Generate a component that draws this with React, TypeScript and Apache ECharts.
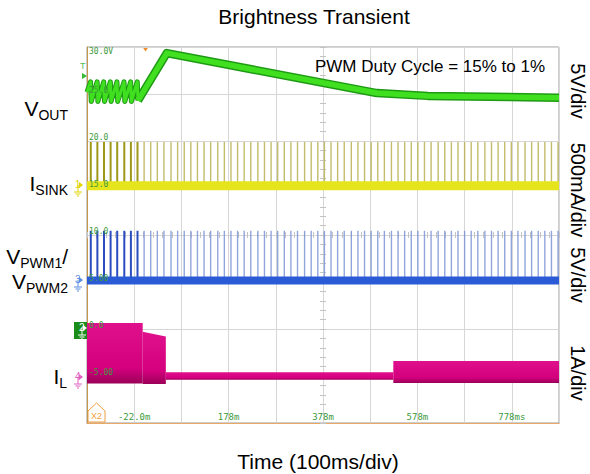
import React, { useEffect, useRef } from "react";
import * as echarts from "echarts";

// ---------- data ----------
const timeTickLabels = ["-22.0m", "178m", "378m", "578m", "778ms"];
const levelTickLabels = ["", "-5.00", "0.0", "5.00", "10.0", "15.0", "20.0", "25.0", "30.0V"];

// VOUT trace: time (ms) / volts
const voutTimes = [-122, -114.5, -113, -100.5, -99, -86.5, -85, -72.5, -71, -58.5, -57, -43.5, -42, -29.5, -28, -15.5, -14, 47, 492, 600, 878];
const voutVolts = [25.2, 26.3, 24.2, 26.3, 24.2, 26.3, 24.2, 26.3, 24.2, 26.3, 24.2, 26.3, 24.2, 26.3, 24.2, 26.3, 24.3, 29.35, 25.1, 24.8, 24.6];
const voutRippleEnd = 16; // index where the ripple stops and the ramp starts

// PWM pulse instants (ms)
const pulseTimes = [-114, -100, -86, -72, -58, -43, -29, -15, -1, 13, 27, 41, 56, 70, 84, 98, 112, 126, 140, 155, 169, 183, 197, 211, 225, 240, 254, 268, 282, 296, 310, 324, 339, 353, 367, 381, 395, 409, 423, 438, 452, 466, 480, 494, 508, 523, 537, 551, 565, 579, 593, 607, 622, 636, 650, 664, 678, 692, 706, 721, 735, 749, 763, 777, 791, 806, 820, 834, 848, 862, 876];
const dutyChangeMs = -10; // pulses before this are 15% duty
const isinkPeakMa = 465;
const vpwmPeakV = 5.3;

// inductor current envelope segments (A)
const ilSegStart = [-122, -4, 45, 527];
const ilSegEnd = [-4, 45, 527, 878];
const ilHiStart = [1.15, 0.96, 0.1, 0.34];
const ilHiEnd = [1.15, 0.86, 0.1, 0.34];
const ilLoStart = [-0.14, -0.15, -0.06, -0.13];
const ilLoEnd = [-0.14, -0.15, -0.06, -0.13];

// ---------- scope settings ----------
const T0 = -122;
const MS_PER_DIV = 100;
const CH_VOUT = { zero: 2, perDiv: 5 };
const CH_ISINK = { zero: 5.05, perDiv: 500 };
const CH_VPWM = { zero: 3.03, perDiv: 5 };
const CH_IL = { zero: 0.98, perDiv: 1 };

const tx = (t: number) => (t - T0) / MS_PER_DIV;
const dy = (c: { zero: number; perDiv: number }, v: number) => c.zero + v / c.perDiv;

const FONT = "'Liberation Sans', Arial, sans-serif";
const MONO = "'DejaVu Sans Mono', monospace";
const LABEL_GREEN = "#3c9a3c";

const voutPoints = voutTimes.map((t, i) => [tx(t), dy(CH_VOUT, voutVolts[i])]);

function pulseSeries(ch: any, peak: number, earlyColor: string, lateColor: string) {
  return {
    type: "custom",
    z: 3,
    renderItem: (_p: any, api: any) => {
      const top = api.coord([api.value(0), api.value(2)]);
      const bot = api.coord([api.value(0), api.value(1)]);
      const early = api.value(3) === 1;
      return {
        type: "line",
        shape: { x1: top[0], y1: top[1], x2: bot[0], y2: bot[1] },
        style: { stroke: early ? earlyColor : lateColor, lineWidth: early ? 2 : 1.4, opacity: early ? 1 : 0.85 },
      };
    },
    encode: { x: 0, y: [1, 2] },
    data: pulseTimes.map((t) => [tx(t), dy(ch, 0), dy(ch, peak), t < dutyChangeMs ? 1 : 0]),
  };
}

function baseline(ch: any, color: string, width: number) {
  return {
    type: "line",
    z: 4,
    showSymbol: false,
    lineStyle: { color, width },
    data: [[tx(T0), dy(ch, 0)], [tx(T0 + 10 * MS_PER_DIV), dy(ch, 0)]],
  };
}

function voutLine(points: number[][], color: string, width: number, z: number) {
  return { type: "line", z, showSymbol: false, lineStyle: { color, width, join: "round", cap: "butt" }, data: points };
}

function groundMarker(label: string, x: number, y: number, color: string) {
  return [
    { type: "text", x: x - 8, y: y - 6, style: { text: label, fontSize: 10, fontFamily: FONT, fill: color } },
    { type: "polygon", shape: { points: [[x - 4, y - 3], [x, y], [x - 4, y + 3]] }, style: { fill: color } },
    { type: "line", shape: { x1: x - 5, y1: y, x2: x - 5, y2: y + 7 }, style: { stroke: color, lineWidth: 1 } },
    { type: "line", shape: { x1: x - 9, y1: y + 7, x2: x - 1, y2: y + 7 }, style: { stroke: color, lineWidth: 1 } },
    { type: "line", shape: { x1: x - 7.5, y1: y + 9, x2: x - 2.5, y2: y + 9 }, style: { stroke: color, lineWidth: 1 } },
    { type: "line", shape: { x1: x - 6, y1: y + 11, x2: x - 4, y2: y + 11 }, style: { stroke: color, lineWidth: 1 } },
  ];
}

function leftLabel(main: string, sub: string, tail: string, x: number, y: number) {
  return {
    type: "text",
    x,
    y,
    style: {
      text: `{a|${main}}{b|${sub}}` + (tail ? `{a|${tail}}` : ""),
      align: "right",
      verticalAlign: "top",
      fill: "#000",
      rich: {
        a: { fontSize: 21, fontFamily: FONT, lineHeight: 21, verticalAlign: "top", fill: "#000" },
        b: { fontSize: 14, fontFamily: FONT, lineHeight: 14, padding: [10, 0, 0, 0], verticalAlign: "top", fill: "#000" },
      },
    },
  };
}

function rightLabel(text: string, y: number) {
  return {
    type: "text",
    x: 578,
    y,
    rotation: -Math.PI / 2,
    style: { text, fontSize: 20, fontFamily: FONT, fill: "#000", align: "center", verticalAlign: "middle" },
  };
}

const magentaFill = () =>
  new echarts.graphic.LinearGradient(0, 0, 0, 1, [
    { offset: 0, color: "#e0108c" },
    { offset: 0.75, color: "#d4007e" },
    { offset: 1, color: "#9a0058" },
  ]);

const centerTickAxis = (inside: boolean) => ({
  axisLine: { show: false },
  axisTick: { show: true, inside, length: 3, lineStyle: { color: "#c4c4c4" } },
  minorTick: { show: true, splitNumber: 5, length: 3, lineStyle: { color: "#c4c4c4" } },
  axisLabel: { show: false },
  splitLine: { show: false },
});

const option: any = {
  animation: false,
  backgroundColor: "#ffffff",
  grid: { left: 87, top: 47, width: 472, height: 376, show: true, borderColor: "#9a9a9a", borderWidth: 1, backgroundColor: "#fff" },
  xAxis: [
    {
      type: "value", min: 0, max: 10, interval: 1, position: "bottom",
      axisLine: { show: true, lineStyle: { color: "#9a9a9a" } },
      axisTick: { show: false },
      splitLine: { show: true, lineStyle: { color: "#d6d6d6", width: 1 } },
      axisLabel: {
        inside: true, margin: 2, color: LABEL_GREEN, fontSize: 9, fontFamily: MONO,
        formatter: (v: number) => (v % 2 === 1 ? timeTickLabels[(v - 1) / 2] : ""),
      },
    },
    {
      type: "value", min: 0, max: 10, position: "top",
      axisLine: { show: true, lineStyle: { color: "#e8a868" } },
      axisTick: { show: false }, axisLabel: { show: false }, splitLine: { show: false },
    },
    { type: "value", min: 0, max: 10, interval: 1, position: "bottom", offset: -188, ...centerTickAxis(true) },
    { type: "value", min: 0, max: 10, interval: 1, position: "bottom", offset: -188, ...centerTickAxis(false) },
  ],
  yAxis: [
    {
      type: "value", min: 0, max: 8, interval: 1, position: "left",
      axisLine: { show: true, lineStyle: { color: "#c8964a" } },
      axisTick: { show: false }, axisLabel: { show: false },
      splitLine: { show: true, lineStyle: { color: "#d6d6d6", width: 1 } },
    },
    {
      type: "value", min: 0, max: 8, interval: 1, position: "left", z: 10,
      axisLine: { show: false }, axisTick: { show: false }, splitLine: { show: false },
      axisLabel: {
        inside: true, margin: 2, verticalAlign: "bottom", color: LABEL_GREEN, fontSize: 8, fontFamily: MONO,
        formatter: (v: number) => (v >= 8 ? "" : levelTickLabels[v]),
      },
    },
    {
      type: "value", min: 0, max: 8, interval: 1, position: "left", z: 10,
      axisLine: { show: false }, axisTick: { show: false }, splitLine: { show: false },
      axisLabel: {
        inside: true, margin: 2, verticalAlign: "top", color: LABEL_GREEN, fontSize: 8, fontFamily: MONO,
        formatter: (v: number) => (v >= 8 ? levelTickLabels[8] : ""),
      },
    },
    { type: "value", min: 0, max: 8, interval: 1, position: "left", offset: -236, ...centerTickAxis(true) },
    { type: "value", min: 0, max: 8, interval: 1, position: "left", offset: -236, ...centerTickAxis(false) },
  ],
  series: [
    // inductor current envelope
    {
      type: "custom",
      z: 3,
      renderItem: (_p: any, api: any) => {
        const a = api.coord([api.value(0), api.value(3)]);
        const b = api.coord([api.value(1), api.value(5)]);
        const c = api.coord([api.value(1), api.value(4)]);
        const d = api.coord([api.value(0), api.value(2)]);
        return { type: "polygon", shape: { points: [a, b, c, d] }, style: { fill: magentaFill() } };
      },
      encode: { x: [0, 1], y: [2, 3, 4, 5] },
      data: ilSegStart.map((s, i) => [
        tx(s), tx(ilSegEnd[i]),
        dy(CH_IL, ilLoStart[i]), dy(CH_IL, ilHiStart[i]),
        dy(CH_IL, ilLoEnd[i]), dy(CH_IL, ilHiEnd[i]),
      ]),
    },
    pulseSeries(CH_ISINK, isinkPeakMa, "#9e9818", "#b8b050"),
    baseline(CH_ISINK, "#e6e41c", 9),
    pulseSeries(CH_VPWM, vpwmPeakV, "#2a4cc0", "#7d95d6"),
    baseline(CH_VPWM, "#2a5ad6", 8),
    voutLine(voutPoints.slice(0, voutRippleEnd + 1), "#1f9a14", 5, 5),
    voutLine(voutPoints.slice(0, voutRippleEnd + 1), "#40e020", 3, 6),
    voutLine(voutPoints.slice(voutRippleEnd), "#1f9a14", 8.5, 5),
    voutLine(voutPoints.slice(voutRippleEnd), "#40e020", 5.5, 6),
  ],
  graphic: [
    { type: "text", x: 314, y: 16, style: { text: "Brightness Transient", fontSize: 21, fontFamily: FONT, fill: "#000", align: "center", verticalAlign: "middle" } },
    { type: "text", x: 318, y: 461, style: { text: "Time (100ms/div)", fontSize: 21, fontFamily: FONT, fill: "#000", align: "center", verticalAlign: "middle" } },
    { type: "text", x: 430, y: 66, z: 20, style: { text: "PWM Duty Cycle = 15% to 1%", fontSize: 17, fontFamily: FONT, fill: "#000", align: "center", verticalAlign: "middle" } },
    rightLabel("5V/div", 91),
    rightLabel("500mA/div", 190),
    rightLabel("5V/div", 275),
    rightLabel("1A/div", 373),
    leftLabel("V", "OUT", "", 68, 98),
    leftLabel("I", "SINK", "", 68, 173),
    leftLabel("V", "PWM1", "/", 68, 246),
    leftLabel("V", "PWM2", "", 68, 271),
    leftLabel("I", "L", "", 67, 366),
    // trigger and channel markers
    { type: "text", x: 80, y: 61, style: { text: "T", fontSize: 9, fontFamily: FONT, fill: "#55bb55" } },
    { type: "polygon", shape: { points: [[82, 73], [87, 76], [82, 79]] }, style: { fill: "#33bb33" } },
    { type: "polygon", shape: { points: [[142.5, 47], [148.5, 47], [145.5, 51.5]] }, style: { fill: "#f08c28" } },
    ...groundMarker("1", 83, 185, "#e2d400"),
    ...groundMarker("3", 83, 280, "#5a8ce0"),
    ...groundMarker("4", 83, 377, "#e060c0"),
    { type: "rect", shape: { x: 74, y: 322, width: 13, height: 17 }, style: { fill: "#1a8c1a" } },
    ...groundMarker("2", 87, 328, "#ffffff"),
    { type: "polygon", shape: { points: [[88, 411], [96.5, 403], [105, 411], [105, 422], [88, 422]] }, style: { fill: "none", stroke: "#f0a040", lineWidth: 1 } },
    { type: "text", x: 96.5, y: 416, style: { text: "X2", fontSize: 9, fontFamily: FONT, fill: "#f0a040", align: "center", verticalAlign: "middle" } },
  ],
};

export default function App() {
  const ref = useRef<HTMLDivElement>(null);
  useEffect(() => {
    const chart = echarts.init(ref.current!, null, { renderer: "svg" });
    chart.setOption(option);
    return () => chart.dispose();
  }, []);
  return <div ref={ref} style={{ position: "absolute", left: 0, top: 0, width: 590, height: 474, background: "#fff" }} />;
}
